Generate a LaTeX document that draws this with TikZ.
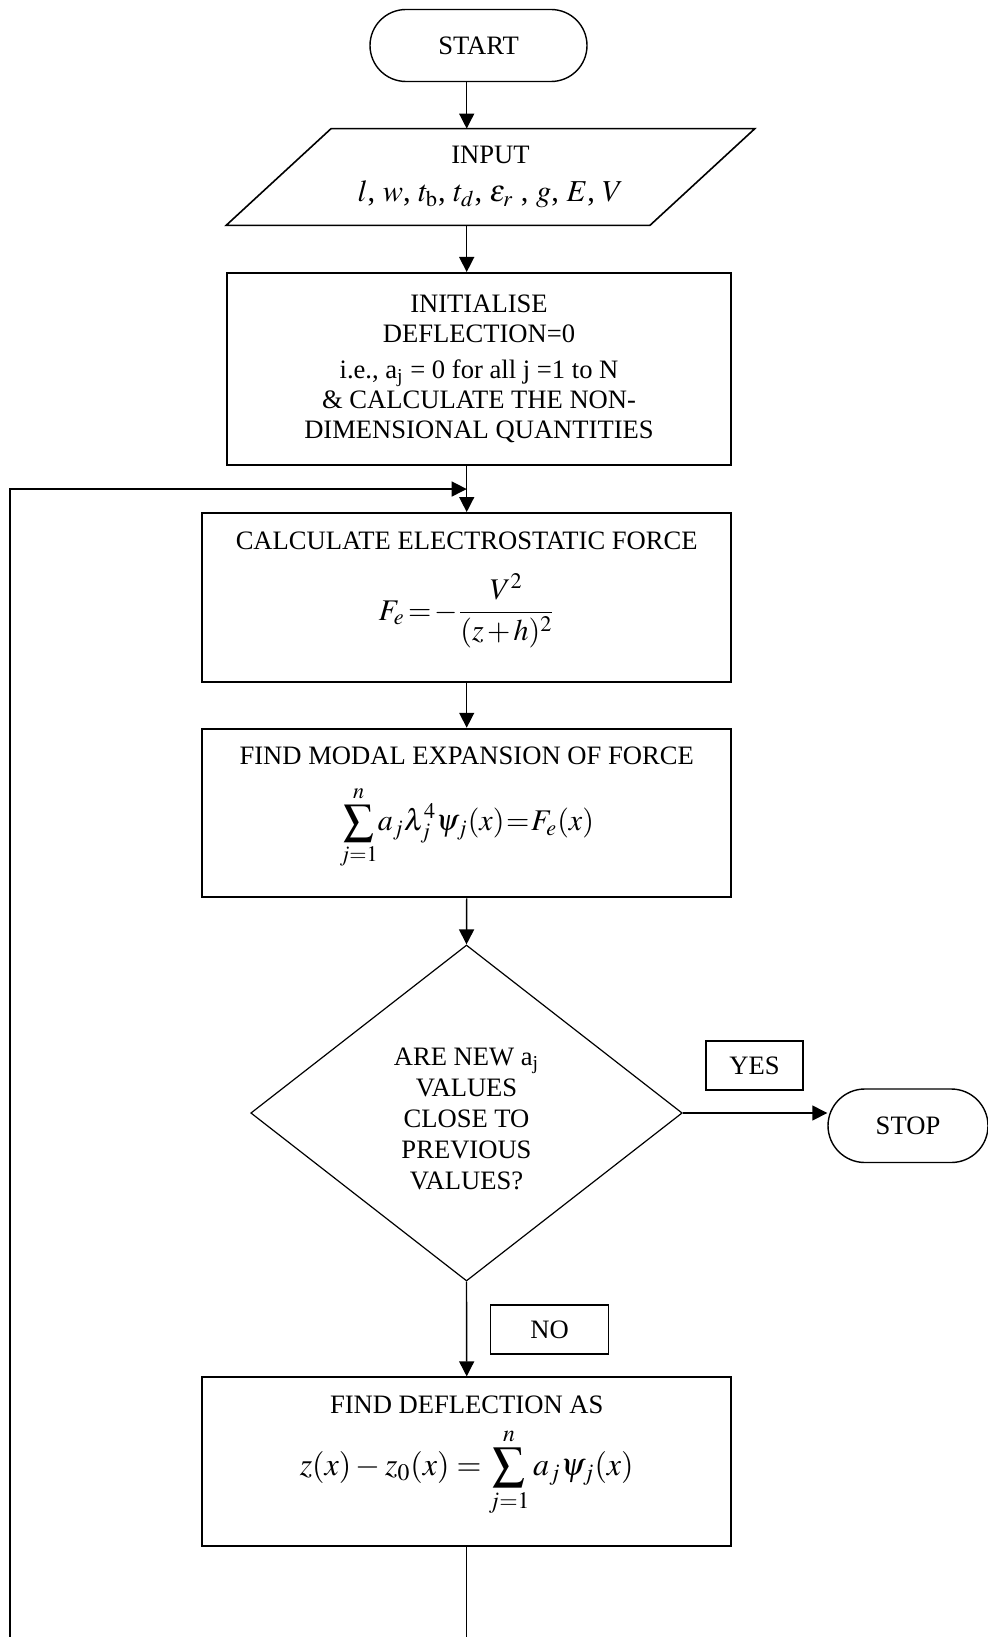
\documentclass[tikz,border=0pt]{standalone}
\usepackage{mathptmx}
\usepackage{fontspec}
\setmainfont{Liberation Serif}
\usetikzlibrary{arrows.meta,calc,shapes.geometric}
\begin{document}
\begin{tikzpicture}[x=0.5pt,y=-0.5pt,
  every node/.style={font=\fontsize{13.3}{15}\selectfont, inner sep=0pt, align=center},
  box/.style={draw, line width=1pt, minimum width=264.5pt, minimum height=84.25pt},
  lab/.style={draw, line width=0.9pt, minimum height=24.5pt},
  term/.style={draw, line width=0.7pt, rounded corners=#1},
  arr/.style={-{Triangle[length=7.5pt,width=7.5pt]}, line width=0.7pt},
  fml/.style={font=\fontsize{15}{18}\selectfont}
]
\useasboundingbox (0,0) rectangle (988,1637);

% START
\node[term=18pt, minimum width=108.5pt, minimum height=36pt] (start) at (478.5,45.5) {START};

% INPUT parallelogram
\node[minimum width=264pt, minimum height=48pt] (inp) at (490.5,177) {INPUT\\[4pt]
  {\fontsize{15.2}{18}\selectfont$l$, $w$, $t_{\mathrm{b}}$, $t_d$, $\varepsilon_r$ , $g$, $E$, $V$}};
\draw[line width=0.8pt] ($(inp.north west)+(105,0)$) -- (inp.north east) -- ($(inp.south east)+(-105,0)$) -- (inp.south west) -- cycle;

% INITIALISE
\node[draw, line width=1pt, minimum width=252pt, minimum height=96pt] (init) at (479,369) {INITIALISE\\DEFLECTION=0\\[3pt]
  i.e., a\textsubscript{j} = 0 for all j =1 to N\\
  \& CALCULATE THE NON-\\DIMENSIONAL QUANTITIES};

% CALCULATE
\node[box] (calc) at (466.7,597.3) {};
\node[anchor=base] (calct) at ($(calc.north)+(0,37)$) {CALCULATE ELECTROSTATIC FORCE};
\node[fml] (calcf) at ($(calc.north)+(0,99)$) {\thickmuskip=2mu\medmuskip=2mu$\displaystyle F_e =-\frac{V^2}{(z+h)^2}$};

% MODAL
\node[box] (modal) at (466.7,813) {};
\node[anchor=base] (modalt) at ($(modal.north)+(0,37)$) {FIND MODAL EXPANSION OF FORCE};
\node[fml] (modalf) at ($(modal.north)+(0,100)$) {\thickmuskip=1mu\medmuskip=2mu$\displaystyle\sum_{j=1}^{n}\! a_j\lambda_j^4\psi_j(x)=F_e(x)$};

% DECISION
\node[draw, shape=diamond, line width=0.6pt, minimum width=215.75pt, minimum height=168pt] (dec) at (466.5,1113) {};
\node[font=\fontsize{13.3}{15.4}\selectfont] (dect) at ($(dec.center)+(0,6)$)
  {ARE NEW a\textsubscript{j}\\VALUES\\CLOSE TO\\PREVIOUS\\VALUES?};

% YES / STOP
\node[lab, minimum width=48.5pt] (yes) at (754.5,1065.5) {YES};
\node[term=18.4pt, minimum width=80pt, minimum height=36.75pt] (stop) at (908,1125.75) {STOP};

% NO
\node[lab, minimum width=59pt] (no) at (549.5,1329.5) {NO};

% DEFLECTION
\node[box] (defl) at (466.7,1461.6) {};
\node[anchor=base] (deflt) at ($(defl.north)+(0,37)$) {FIND DEFLECTION AS};
\node[font=\fontsize{16}{19}\selectfont] (deflf) at ($(defl.north)+(0,96)$) {$z(x)-z_0(x)=\displaystyle\sum_{j=1}^{n} a_j\psi_j(x)$};

% connectors
\draw[arr] (calc.north |- start.south) -- (calc.north |- inp.north);
\draw[arr] (calc.north |- inp.south) -- (calc.north |- init.north);
\draw[arr] (calc.north |- init.south) -- (calc.north);
\draw[arr] (calc.south) -- (modal.north);
\draw[arr] (modal.south) -- (dec.north);
\draw[arr] (dec.east) -- (dec.east -| stop.west);
\draw[arr] (dec.south) -- (defl.north);

\coordinate (join) at ($(calc.north |- init.south)!0.5!(calc.north)$);
\coordinate (loopbot) at (10,1665);
\draw[arr] (defl.south) |- (loopbot) |- (join);
\end{tikzpicture}
\end{document}
